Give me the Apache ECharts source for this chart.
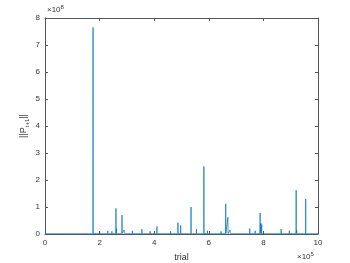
<!DOCTYPE html>
<html><head><meta charset="utf-8">
<script src="https://cdn.jsdelivr.net/npm/echarts@6/dist/echarts.min.js"></script>
<style>html,body{margin:0;padding:0;background:#fff}#c{width:350px;height:263px}</style>
</head><body><div id="c"></div>
<script>
// trial (×10^5) and ||P_{t+1}|| (×10^8)
const trials = [0.000,0.296,0.300,0.304,0.546,0.550,0.554,0.746,0.750,0.754,1.096,1.100,1.104,1.246,1.250,1.254,1.596,1.600,1.604,1.756,1.760,1.764,1.996,2.000,2.004,2.296,2.300,2.304,2.446,2.450,2.454,2.596,2.600,2.604,2.616,2.620,2.624,2.816,2.820,2.824,2.896,2.900,2.904,3.196,3.200,3.204,3.546,3.550,3.554,3.846,3.850,3.854,4.096,4.100,4.104,4.596,4.600,4.604,4.866,4.870,4.874,4.966,4.970,4.974,5.346,5.350,5.354,5.546,5.550,5.554,5.816,5.820,5.824,5.946,5.950,5.954,6.446,6.450,6.454,6.616,6.620,6.624,6.696,6.700,6.704,6.776,6.780,6.784,7.496,7.500,7.504,7.696,7.700,7.704,7.876,7.880,7.884,7.906,7.910,7.914,7.936,7.940,7.944,8.646,8.650,8.654,8.946,8.950,8.954,9.196,9.200,9.204,9.216,9.220,9.224,9.546,9.550,9.554,9.846,9.850,9.854,10.000];
const norms  = [0.01,0.01,0.03,0.01,0.01,0.04,0.01,0.01,0.05,0.01,0.01,0.06,0.01,0.01,0.08,0.01,0.01,0.04,0.01,0.01,7.65,0.02,0.01,0.10,0.01,0.01,0.12,0.01,0.01,0.10,0.01,0.01,0.95,0.02,0.01,0.20,0.01,0.01,0.70,0.02,0.01,0.15,0.01,0.01,0.12,0.01,0.01,0.18,0.01,0.01,0.10,0.01,0.01,0.28,0.01,0.01,0.10,0.01,0.01,0.42,0.01,0.01,0.32,0.01,0.01,1.00,0.01,0.01,0.18,0.01,0.01,2.50,0.02,0.01,0.12,0.01,0.01,0.10,0.01,0.01,1.12,0.02,0.01,0.62,0.01,0.01,0.15,0.01,0.01,0.20,0.01,0.01,0.12,0.01,0.01,0.78,0.02,0.01,0.40,0.01,0.01,0.35,0.01,0.01,0.18,0.01,0.01,0.12,0.01,0.01,1.62,0.02,0.01,0.15,0.01,0.01,1.30,0.01,0.01,0.08,0.01,0.01];
const xTicks = [0,2,4,6,8,10];
const yTicks = [0,1,2,3,4,5,6,7,8];

const axisCol = '#555';
const txtCol = '#333';
const font = 'Helvetica, Arial, "Liberation Sans", sans-serif';
const chart = echarts.init(document.getElementById('c'));
const baseX = {type:'value', min:0, max:10, interval:2,
  axisLine:{show:true, onZero:false, lineStyle:{color:axisCol,width:1}},
  axisTick:{show:true, inside:true, length:3, lineStyle:{color:axisCol}},
  splitLine:{show:false}};
const baseY = {type:'value', min:0, max:8, interval:1,
  axisLine:{show:true, onZero:false, lineStyle:{color:axisCol,width:1}},
  axisTick:{show:true, inside:true, length:3, lineStyle:{color:axisCol}},
  splitLine:{show:false}};
chart.setOption({
  animation:false,
  backgroundColor:'#fff',
  grid:{left:45, right:32, top:18, bottom:29, outerBoundsMode:'none', containLabel:false},
  xAxis:[
    Object.assign({}, baseX, {position:'bottom',
      axisLabel:{show:true, color:txtCol, fontSize:8, fontFamily:font, margin:5,
        formatter:v=>xTicks.includes(v)?String(v):''},
      name:'trial', nameLocation:'middle', nameGap:19, nameMoveOverlap:false,
      nameTextStyle:{color:txtCol, fontSize:9, fontFamily:font}}),
    Object.assign({}, baseX, {position:'top', axisLabel:{show:false}})
  ],
  yAxis:[
    Object.assign({}, baseY, {position:'left',
      axisLabel:{show:true, color:txtCol, fontSize:8, fontFamily:font, margin:5,
        formatter:v=>yTicks.includes(v)?String(v):''},
      name:'||P{s|t+1}||', nameLocation:'middle', nameGap:15, nameRotate:90, nameMoveOverlap:false,
      nameTextStyle:{color:txtCol, fontSize:9, fontFamily:font,
        rich:{s:{fontSize:6, verticalAlign:'bottom', padding:[6,0,0,0], color:txtCol, fontFamily:font}}}}),
    Object.assign({}, baseY, {position:'right', axisLabel:{show:false}})
  ],
  series:[{
    type:'line', xAxisIndex:0, yAxisIndex:0,
    data: trials.map((t,i)=>[t, norms[i]]),
    showSymbol:false, symbol:'none',
    lineStyle:{color:'#0072BD', width:0.7},
    clip:true
  }],
  graphic:[
    {type:'text', left:47, top:4, style:{text:'×10{s|8}', fill:txtCol, fontSize:8, fontFamily:font,
      rich:{s:{fontSize:6, verticalAlign:'top', padding:[0,0,6,0], fill:txtCol, fontFamily:font}}}},
    {type:'text', left:297, top:251, style:{text:'×10{s|5}', fill:txtCol, fontSize:8, fontFamily:font,
      rich:{s:{fontSize:6, verticalAlign:'top', padding:[0,0,6,0], fill:txtCol, fontFamily:font}}}}
  ]
});
</script></body></html>
